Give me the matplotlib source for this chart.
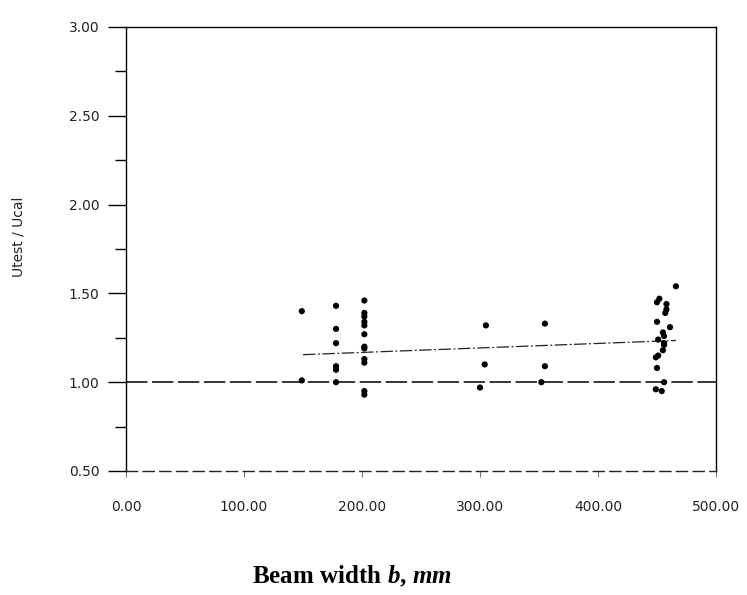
import matplotlib
matplotlib.use("Agg")
import matplotlib.pyplot as plt
from matplotlib.ticker import MultipleLocator, FormatStrFormatter

# ---- data ----
width_a = [149, 149]
ratio_a = [1.40, 1.01]
width_b = [178, 178, 178, 178, 178, 178]
ratio_b = [1.43, 1.30, 1.22, 1.09, 1.07, 1.00]
width_c = [202] * 12
ratio_c = [1.46, 1.39, 1.37, 1.34, 1.32, 1.27, 1.20, 1.19, 1.13, 1.11, 0.95, 0.93]
width_d = [305, 304, 300]
ratio_d = [1.32, 1.10, 0.97]
width_e = [355, 355, 352]
ratio_e = [1.33, 1.09, 1.00]
width_f = [466, 450, 452, 458, 458, 457, 450, 461, 455, 456, 451, 456, 456, 455,
           451, 449, 450, 456, 449, 454]
ratio_f = [1.54, 1.45, 1.47, 1.44, 1.41, 1.39, 1.34, 1.31, 1.28, 1.26, 1.24, 1.22,
           1.21, 1.18, 1.15, 1.14, 1.08, 1.00, 0.96, 0.95]

trend_x = [150, 466]
trend_y = [1.155, 1.235]
unity_x = [0, 500]
unity_y = [1.0, 1.0]

x_ticks = [0, 100, 200, 300, 400, 500]

widths = width_a + width_b + width_c + width_d + width_e + width_f
ratios = ratio_a + ratio_b + ratio_c + ratio_d + ratio_e + ratio_f

plt.rcParams['mathtext.fontset'] = 'custom'
plt.rcParams['mathtext.rm'] = 'Liberation Serif:bold'
plt.rcParams['mathtext.it'] = 'Liberation Serif:bold:italic'
plt.rcParams['mathtext.bf'] = 'Liberation Serif:bold'

fig = plt.figure(figsize=(7.47, 5.95), dpi=100)
ax = fig.add_axes([126 / 747, 1 - 471 / 595, (716 - 126) / 747, (471 - 27) / 595])

ax.plot(unity_x, unity_y, color='black', lw=1.1, linestyle=(0, (14, 3)), zorder=2)
ax.plot(trend_x, trend_y, color='#222222', lw=0.9, linestyle=(0, (10, 2, 1.5, 2)), zorder=2)
ax.scatter(widths, ratios, s=20, color='black', edgecolors='none', zorder=3)

ax.set_xlim(0, 500)
ax.set_ylim(0.5, 3.0)
ax.set_xticks(x_ticks)
ax.xaxis.set_major_formatter(FormatStrFormatter('%.2f'))
ax.yaxis.set_major_locator(MultipleLocator(0.5))
ax.yaxis.set_minor_locator(MultipleLocator(0.25))
ax.yaxis.set_major_formatter(FormatStrFormatter('%.2f'))

for s in ['top', 'right', 'left']:
    ax.spines[s].set_linewidth(1.0)
    ax.spines[s].set_color('black')
ax.spines['bottom'].set_linewidth(1.0)
ax.spines['bottom'].set_linestyle((0, (8, 4)))
ax.spines['bottom'].set_color('#222222')

ax.tick_params(axis='y', which='major', direction='out', length=13, width=1.0,
               pad=6, labelsize=10)
ax.tick_params(axis='y', which='minor', direction='out', length=8, width=1.0)
ax.tick_params(axis='x', which='major', direction='out', length=4, width=0.8,
               pad=17, labelsize=10, color='#777777')
for lab in ax.get_xticklabels() + ax.get_yticklabels():
    lab.set_family('DejaVu Sans')
    lab.set_color('#222222')

fig.text(19 / 747, 1 - 237 / 595, 'Utest / Ucal', rotation=90, ha='center',
         va='center', fontsize=10, family='DejaVu Sans', color='#222222')
fig.text(352 / 747, 1 - 576 / 595,
         r'$\mathrm{Beam\ width\ }\mathit{b}\mathrm{,}\ \mathit{mm}$',
         ha='center', va='center', fontsize=18)

fig.savefig('out.png', dpi=100)
